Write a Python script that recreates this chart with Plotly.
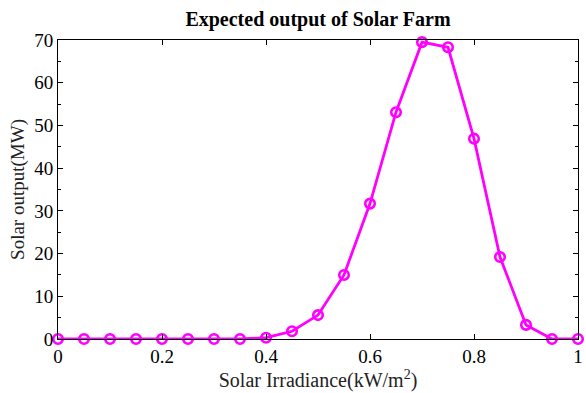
import plotly.graph_objects as go

irradiance = [0, 0.05, 0.1, 0.15, 0.2, 0.25, 0.3, 0.35, 0.4, 0.45, 0.5, 0.55, 0.6, 0.65, 0.7, 0.75, 0.8, 0.85, 0.9, 0.95, 1.0]
output_mw = [0, 0, 0, 0, 0, 0, 0, 0, 0.3, 1.8, 5.6, 15.0, 31.7, 53.1, 69.5, 68.3, 46.9, 19.2, 3.3, 0, 0]

x_ticks = [0, 0.2, 0.4, 0.6, 0.8, 1]
x_labels = ["0", "0.2", "0.4", "0.6", "0.8", "1"]
y_ticks = [0, 10, 20, 30, 40, 50, 60, 70]

font_family = "Liberation Serif"

fig = go.Figure()
fig.add_trace(go.Scatter(
    x=irradiance, y=output_mw,
    mode="lines+markers",
    line=dict(color="#FF00FF", width=2.8),
    marker=dict(symbol="circle-open", size=9.5, color="#FF00FF", line=dict(width=2.6, color="#FF00FF")),
    cliponaxis=False,
    showlegend=False,
))

axis_common = dict(
    showline=True, linecolor="black", linewidth=1, mirror="ticks",
    ticks="inside", ticklen=5, tickcolor="black", tickwidth=1,
    showgrid=False, zeroline=False,
    ticklabeloverflow="allow",
    tickfont=dict(family=font_family, size=19, color="black"),
)

fig.update_layout(
    width=586, height=393,
    margin=dict(l=58, r=3, t=40, b=54),
    paper_bgcolor="white", plot_bgcolor="white",
    title=dict(text="<b>Expected output of Solar Farm</b>", x=0.5, xref="paper", xanchor="center",
               y=0.952, yanchor="middle", yref="container",
               font=dict(family=font_family, size=20, color="black")),
    xaxis=dict(range=[0, 1], tickvals=x_ticks, ticktext=x_labels,
               title=dict(text="Solar Irradiance(kW/m<sup>2</sup>)", font=dict(family=font_family, size=20, color="#222"), standoff=6),
               **axis_common),
    yaxis=dict(range=[0, 70], tickvals=y_ticks,
               title=dict(text="Solar output(MW)", font=dict(family=font_family, size=19, color="#222"), standoff=4),
               minor=dict(ticks="inside", ticklen=3, tickcolor="black", dtick=5, showgrid=False),
               **axis_common),
)

fig.write_html("out.html")
